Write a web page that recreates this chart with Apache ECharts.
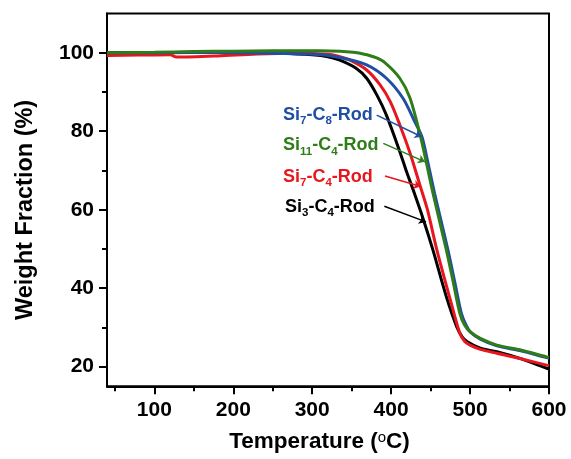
<!DOCTYPE html>
<html>
<head>
<meta charset="utf-8">
<script src="https://cdn.jsdelivr.net/npm/echarts@6/dist/echarts.min.js"></script>
<style>
  html, body { margin: 0; padding: 0; background: #fff; }
  #chart { width: 571px; height: 459px; }
</style>
</head>
<body>
<div id="chart"></div>
<script>
// TGA curves: [temperature (°C), weight fraction (%)]
const si3c4 = [[40,100.0],[100,100.0],[200,100.1],[260,99.9],[300,99.5],[320,99.0],[335,98.1],[356,96.0],[369,93.5],[382,89.2],[394,84.1],[411,74.8],[419,70.0],[428,65.0],[441,57.4],[453,49.7],[470,37.8],[483,30.2],[490,27.6],[496,26.4],[513,24.7],[534,23.8],[563,22.1],[597,19.6],[600,19.4]];
const si7c4 = [[40,99.3],[80,99.4],[120,99.5],[128,98.9],[180,99.2],[230,99.7],[280,99.9],[320,99.6],[335,99.0],[348,98.1],[369,95.6],[386,91.8],[399,87.5],[411,81.6],[424,74.4],[437,65.9],[446,60.0],[458,49.7],[475,37.0],[487,28.5],[493,26.5],[500,25.5],[513,24.4],[534,23.4],[563,22.1],[597,20.4],[600,20.3]];
const si7c8 = [[40,100.0],[100,100.0],[150,100.1],[200,100.0],[260,99.8],[300,99.6],[320,99.3],[339,98.6],[369,96.9],[394,93.5],[415,88.4],[430,82.4],[439,78.6],[445,73.5],[455,64.2],[472,49.7],[481,41.2],[489,33.6],[495,30.6],[501,28.7],[513,27.0],[534,25.3],[563,24.1],[597,22.3],[600,22.2]];
const si11c4 = [[40,100.0],[100,100.1],[150,100.3],[200,100.4],[250,100.5],[310,100.5],[335,100.4],[352,100.1],[366,99.6],[380,98.8],[392,97.5],[411,93.5],[424,88.4],[437,78.8],[443,73.5],[453,64.2],[470,49.7],[479,41.2],[487,33.6],[493,30.6],[500,28.9],[513,27.2],[534,25.5],[563,24.3],[597,22.5],[600,22.4]];

// Axis ticks
const xMajorTicks = [100, 200, 300, 400, 500, 600];
const xMinorTicks = [50, 150, 250, 350, 450, 550];
const yMajorTicks = [20, 40, 60, 80, 100];
const yMinorTicks = [30, 50, 70, 90];

// Callout labels: text anchor and arrow (start -> curve), in data units
const labelSi7C8 = { text: '{m|Si}{s|7}{m|-C}{s|8}{m|-Rod}', at: [263.0, 84.2], arrow: [[381.7, 84.1], [438.7, 78.6]] };
const labelSi11C4 = { text: '{m|Si}{s|11}{m|-C}{s|4}{m|-Rod}', at: [263.0, 76.4], arrow: [[390.1, 76.9], [442.9, 72.2]] };
const labelSi7C4 = { text: '{m|Si}{s|7}{m|-C}{s|4}{m|-Rod}', at: [263.0, 68.4], arrow: [[392.2, 68.6], [437.5, 65.9]] };
const labelSi3C4 = { text: '{m|Si}{s|3}{m|-C}{s|4}{m|-Rod}', at: [265.5, 60.7], arrow: [[391.4, 60.9], [444.2, 56.9]] };

const FONT = '"Liberation Sans", Arial, Helvetica, sans-serif';

function makeSeries(name, data, color, callout) {
  return {
    name: name,
    type: 'line',
    data: data,
    xAxisIndex: 0,
    yAxisIndex: 0,
    showSymbol: false,
    smooth: 0.3,
    lineStyle: { color: color, width: 3 },
    itemStyle: { color: color },
    markPoint: {
      silent: true,
      symbol: 'circle',
      symbolSize: 0,
      label: {
        show: true,
        position: 'right',
        distance: 0,
        formatter: callout.text,
        rich: {
          m: { fontFamily: FONT, fontSize: 18, fontWeight: 'bold', color: color, lineHeight: 24 },
          s: { fontFamily: FONT, fontSize: 11.5, fontWeight: 'bold', color: color, lineHeight: 17, verticalAlign: 'bottom' }
        }
      },
      data: [{ coord: callout.at }]
    },
    markLine: {
      silent: true,
      symbol: ['none', 'arrow'],
      symbolSize: 7,
      label: { show: false },
      lineStyle: { color: color, width: 1.5, type: 'solid' },
      data: [[{ coord: callout.arrow[0] }, { coord: callout.arrow[1] }]]
    }
  };
}

const axisLineStyle = { color: '#000', width: 2 };
const labelStyle = { fontFamily: FONT, fontSize: 21, fontWeight: 'bold', color: '#000' };

const chart = echarts.init(document.getElementById('chart'), null, { renderer: 'canvas' });
chart.setOption({
  animation: false,
  backgroundColor: '#fff',
  grid: {
    left: 107, right: 22, top: 13.5, bottom: 72.7,
    show: true, borderColor: '#000', borderWidth: 2, backgroundColor: 'transparent',
    outerBoundsMode: 'none'
  },
  xAxis: [
    {
      type: 'value', position: 'bottom', min: 40, max: 600,
      axisLine: { show: true, onZero: false, lineStyle: axisLineStyle },
      axisTick: { show: true, inside: false, length: 8, customValues: xMajorTicks, lineStyle: { width: 2, color: '#000' } },
      axisLabel: Object.assign({ margin: 13, customValues: xMajorTicks }, labelStyle),
      splitLine: { show: false },
      name: 'Temperature ({sup|o}C)',
      nameLocation: 'middle',
      nameGap: 44,
      nameTextStyle: {
        fontFamily: FONT, fontSize: 22.5, fontWeight: 'bold', color: '#000',
        padding: [0, 17, 0, 0],
        rich: {
          sup: { fontFamily: FONT, fontSize: 15, fontWeight: 'normal', color: '#000', verticalAlign: 'top', lineHeight: 22 }
        }
      }
    },
    {
      type: 'value', position: 'bottom', min: 40, max: 600,
      axisLine: { show: false, onZero: false },
      axisTick: { show: true, inside: false, length: 5, customValues: xMinorTicks, lineStyle: { width: 2, color: '#000' } },
      axisLabel: { show: false },
      splitLine: { show: false }
    }
  ],
  yAxis: [
    {
      type: 'value', position: 'left', min: 15, max: 110,
      axisLine: { show: true, onZero: false, lineStyle: axisLineStyle },
      axisTick: { show: true, inside: false, length: 8, customValues: yMajorTicks, lineStyle: { width: 2, color: '#000' } },
      axisLabel: Object.assign({ margin: 13, customValues: yMajorTicks }, labelStyle),
      splitLine: { show: false },
      name: 'Weight Fraction (%)',
      nameLocation: 'middle',
      nameGap: 69,
      nameTextStyle: {
        fontFamily: FONT, fontSize: 23.5, fontWeight: 'bold', color: '#000',
        padding: [0, 20, 0, 0]
      }
    },
    {
      type: 'value', position: 'left', min: 15, max: 110,
      axisLine: { show: false, onZero: false },
      axisTick: { show: true, inside: false, length: 5, customValues: yMinorTicks, lineStyle: { width: 2, color: '#000' } },
      axisLabel: { show: false },
      splitLine: { show: false }
    }
  ],
  series: [
    makeSeries('Si3-C4-Rod', si3c4, '#000000', labelSi3C4),
    makeSeries('Si7-C4-Rod', si7c4, '#e8161e', labelSi7C4),
    makeSeries('Si7-C8-Rod', si7c8, '#1f4fa3', labelSi7C8),
    makeSeries('Si11-C4-Rod', si11c4, '#2e7d18', labelSi11C4)
  ]
});
</script>
</body>
</html>
